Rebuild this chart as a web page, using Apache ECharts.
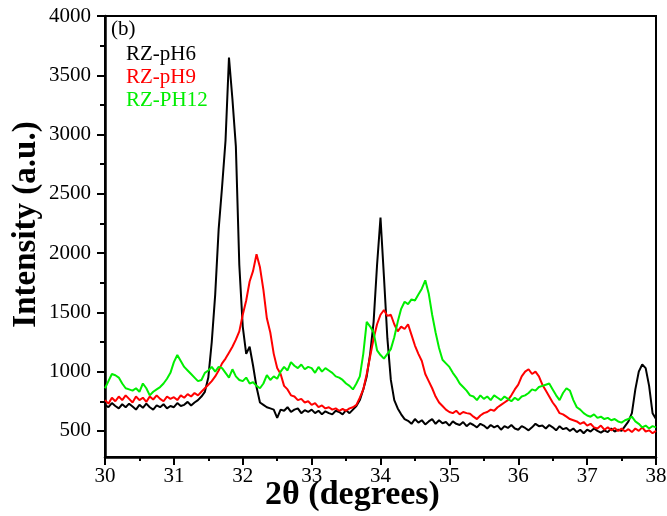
<!DOCTYPE html>
<html>
<head>
<meta charset="utf-8">
<script src="https://cdn.jsdelivr.net/npm/echarts@6/dist/echarts.min.js"></script>
<style>html,body{margin:0;padding:0;background:#fff}#c{width:667px;height:516px}</style>
</head>
<body>
<div id="c"></div>
<script>
// 2θ sampling (degrees)
var theta = [
30.00,30.05,30.10,30.15,30.20,30.25,30.30,30.35,30.40,30.45,30.50,30.55,30.60,30.65,30.70,30.75,30.80,30.85,30.90,30.95,
31.00,31.05,31.10,31.15,31.20,31.25,31.30,31.35,31.40,31.45,31.50,31.55,31.60,31.65,31.70,31.75,31.80,31.85,31.90,31.95,
32.00,32.05,32.10,32.15,32.20,32.25,32.30,32.35,32.40,32.45,32.50,32.55,32.60,32.65,32.70,32.75,32.80,32.85,32.90,32.95,
33.00,33.05,33.10,33.15,33.20,33.25,33.30,33.35,33.40,33.45,33.50,33.55,33.60,33.65,33.70,33.75,33.80,33.85,33.90,33.95,
34.00,34.05,34.10,34.15,34.20,34.25,34.30,34.35,34.40,34.45,34.50,34.55,34.60,34.65,34.70,34.75,34.80,34.85,34.90,34.95,
35.00,35.05,35.10,35.15,35.20,35.25,35.30,35.35,35.40,35.45,35.50,35.55,35.60,35.65,35.70,35.75,35.80,35.85,35.90,35.95,
36.00,36.05,36.10,36.15,36.20,36.25,36.30,36.35,36.40,36.45,36.50,36.55,36.60,36.65,36.70,36.75,36.80,36.85,36.90,36.95,
37.00,37.05,37.10,37.15,37.20,37.25,37.30,37.35,37.40,37.45,37.50,37.55,37.60,37.65,37.70,37.75,37.80,37.85,37.90,37.95,
38.00];

var pH6 = [
720,700,735,710,690,725,700,730,705,680,720,695,730,700,680,715,700,725,690,710,
700,735,710,720,745,715,740,760,790,830,950,1250,1650,2200,2560,2950,3650,3300,2900,1900,
1380,1150,1210,1050,870,740,720,700,690,680,610,680,670,700,660,680,690,650,675,660,
680,650,670,640,665,650,640,670,660,640,675,650,680,710,760,850,960,1150,1420,1900,
2300,1800,1280,930,760,690,640,600,585,560,600,570,590,555,580,600,560,590,565,575,
545,580,560,550,575,540,565,550,530,560,545,520,550,530,545,510,540,525,550,520,
510,540,525,505,530,560,540,545,520,550,530,505,540,515,525,500,520,490,510,480,
510,495,520,500,485,505,490,520,495,510,500,540,580,650,850,1000,1060,1030,880,650,
600];

var pH9 = [
760,730,780,750,790,760,800,770,740,790,760,780,745,790,765,800,770,750,790,770,
785,760,800,780,810,790,820,800,830,860,890,920,960,1010,1070,1110,1160,1210,1270,1340,
1480,1600,1760,1850,1990,1880,1690,1450,1330,1150,1030,980,880,850,800,790,760,770,740,750,
720,735,700,715,690,700,680,690,670,685,670,690,700,720,780,850,980,1130,1280,1400,
1480,1520,1470,1480,1400,1340,1380,1360,1400,1310,1220,1150,1090,980,920,860,790,740,710,680,
660,650,670,640,660,650,645,620,600,630,650,660,680,670,700,720,740,760,800,850,
890,960,1000,1020,980,1000,960,890,840,790,740,700,650,640,620,600,590,580,560,575,
545,560,530,520,545,510,530,505,525,500,520,495,515,490,520,500,530,495,505,480,
500];

var pH12 = [
860,920,980,970,950,900,860,850,840,860,830,900,860,800,830,850,870,900,940,990,
1080,1140,1090,1040,1010,980,950,920,930,990,1010,1040,1000,1040,1030,990,950,1020,960,930,
920,950,900,910,880,860,900,970,930,960,940,1000,1040,1010,1080,1050,1030,1060,1020,1040,
1030,990,1040,1000,1030,1010,990,960,950,930,900,880,850,900,960,1150,1420,1380,1330,1180,
1140,1110,1150,1190,1290,1420,1530,1590,1570,1610,1600,1650,1700,1770,1660,1480,1330,1200,1100,1070,
1040,990,950,900,870,840,800,790,760,800,770,790,760,800,780,760,790,770,750,780,
760,790,800,820,850,840,870,880,890,900,850,800,760,820,860,840,760,700,680,650,
630,620,640,610,620,600,610,590,600,580,570,590,600,620,580,560,530,545,520,540,
530];

var seriesNames = ['RZ-pH6', 'RZ-pH9', 'RZ-PH12'];
var seriesColors = ['#000000', '#ff0000', '#00ee00'];
var seriesValues = [pH6, pH9, pH12];

var yMajorTicks = [500, 1000, 1500, 2000, 2500, 3000, 3500, 4000];
var yMinorTicks = [750, 1250, 1750, 2250, 2750, 3250, 3750];

var FONT = "'Liberation Serif', 'Times New Roman', serif";

function pairs(vals) {
  return theta.map(function (t, i) { return [t, vals[i]]; });
}

var chart = echarts.init(document.getElementById('c'), null, {renderer: 'canvas'});
chart.setOption({
  animation: false,
  backgroundColor: '#fff',
  title: {
    text: '(b)', left: 111, top: 19, padding: 0,
    textStyle: {fontFamily: FONT, fontSize: 21, fontWeight: 'normal', color: '#000'}
  },
  legend: {
    orient: 'vertical', left: 121, top: 44, padding: 0, itemGap: 2,
    itemWidth: 0, itemHeight: 0, icon: 'none',
    textStyle: {fontFamily: FONT, fontSize: 21},
    data: seriesNames.map(function (n, i) { return {name: n, textStyle: {color: seriesColors[i]}}; })
  },
  grid: {left: 105, right: 11, top: 16, bottom: 59, outerBoundsMode: 'none', containLabel: false,
    show: true, borderColor: '#000', borderWidth: 2, backgroundColor: 'transparent'},
  xAxis: {
    type: 'value', min: 30, max: 38, interval: 1,
    name: '2θ (degrees)', nameLocation: 'middle', nameGap: 21, nameMoveOverlap: false,
    nameTextStyle: {fontFamily: FONT, fontSize: 34, fontWeight: 'bold', color: '#000', padding: [0, 56, 0, 0]},
    axisLine: {show: true, lineStyle: {color: '#000', width: 2.5}},
    axisTick: {show: true, inside: false, length: 8, lineStyle: {color: '#000', width: 2}},
    minorTick: {show: true, splitNumber: 2, length: 4, lineStyle: {color: '#000', width: 2}},
    axisLabel: {fontFamily: FONT, fontSize: 21, color: '#000', margin: 9},
    splitLine: {show: false}
  },
  yAxis: [{
    type: 'value', min: 280, max: 4000,
    name: 'Intensity (a.u.)', nameLocation: 'middle', nameGap: 62, nameMoveOverlap: false,
    nameTextStyle: {fontFamily: FONT, fontSize: 33, fontWeight: 'bold', color: '#000', padding: [0, 0, 0, 24]},
    axisLine: {show: true, lineStyle: {color: '#000', width: 2.5}},
    axisTick: {show: true, inside: false, length: 8, customValues: yMajorTicks, lineStyle: {color: '#000', width: 2}},
    axisLabel: {fontFamily: FONT, fontSize: 21, color: '#000', margin: 14, customValues: yMajorTicks,
      formatter: function (v) { return String(v); }},
    splitLine: {show: false}
  }, {
    type: 'value', min: 280, max: 4000, position: 'left',
    axisLine: {show: false},
    axisTick: {show: true, inside: false, length: 5, customValues: yMinorTicks, lineStyle: {color: '#000', width: 2}},
    axisLabel: {show: false},
    splitLine: {show: false}
  }],
  series: seriesNames.map(function (n, i) {
    return {
      name: n, type: 'line', yAxisIndex: 0, data: pairs(seriesValues[i]),
      showSymbol: false, symbol: 'none', lineStyle: {color: seriesColors[i], width: 2},
      itemStyle: {color: seriesColors[i]}
    };
  })
});
</script>
</body>
</html>
